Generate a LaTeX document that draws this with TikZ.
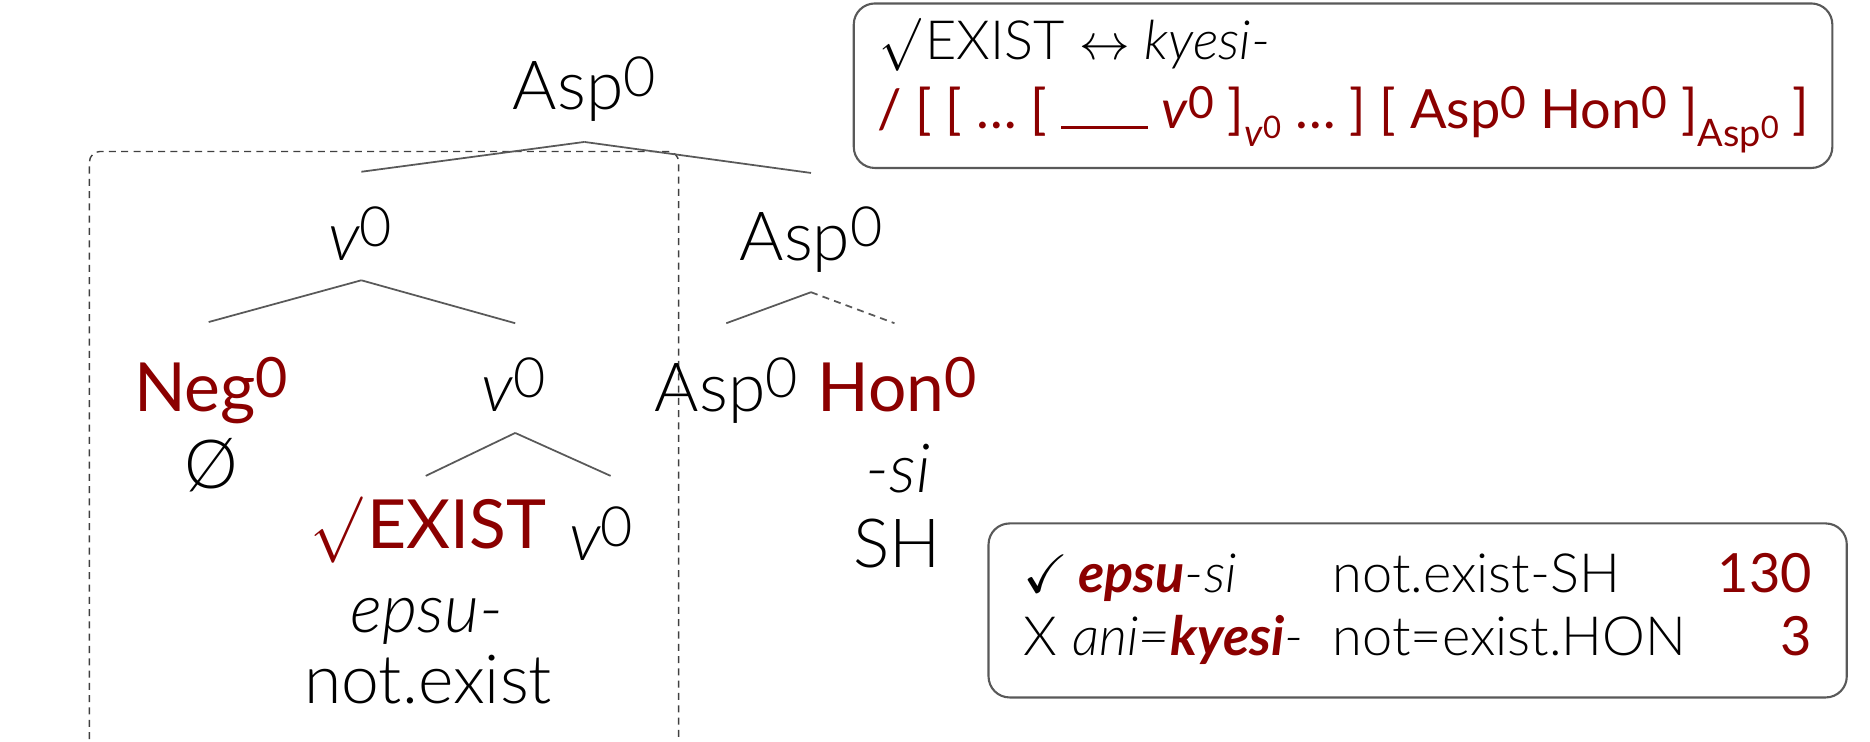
\documentclass[tikz,border=0pt]{standalone}
\usepackage{fontspec}
\usepackage{amssymb}
\usepackage{graphicx}
\setmainfont{Lato}[UprightFont=* Light, ItalicFont=* Light Italic, BoldFont=*, BoldItalicFont=* Italic]
\newfontface\heavyit{Lato Bold Italic}
\definecolor{darkred}{HTML}{8B0000}

% small raised zero on category labels
\newcommand{\zsup}{\raisebox{0.2em}{\scalebox{0.82}{0}}}
\newcommand{\rootmark}{\raisebox{-0.22em}{\resizebox*{0.76em}{0.98em}{\raisebox{\depth}{$\surd$}}}\kern0.08em}
\newcommand{\vsub}{\raisebox{-0.32em}{\scalebox{0.7}{\textit{v}\zsup}}}
\newcommand{\aspsub}{\raisebox{-0.32em}{\scalebox{0.7}{Asp\zsup}}}
\newcommand{\hl}[1]{\textcolor{darkred}{\bfseries #1}}
\newcommand{\hlit}[1]{\textcolor{darkred}{\heavyit #1}}

\tikzset{
    cat/.style={anchor=base, inner sep=0pt, font=\fontsize{19.3}{23}\selectfont},
    hicat/.style={cat, text=darkred, font=\fontsize{19.3}{23}\selectfont\bfseries},
    branch/.style={draw=black!65, line width=0.5pt},
    dashbranch/.style={branch, dash pattern=on 2pt off 1.5pt},
    groupline/.style={draw=black!75, line width=0.4pt, dash pattern=on 2pt off 1.5pt, rounded corners=3pt},
    infobox/.style={rectangle, rounded corners=6pt, draw=black!65, line width=0.6pt, inner sep=0pt},
    boxtext/.style={anchor=base west, inner sep=0pt, font=\fontsize{15.4}{18}\selectfont},
}

\begin{document}
\begin{tikzpicture}[x=0.011926cm, y=-0.011926cm]
    \useasboundingbox (0,0) rectangle (1568,622);

    % v0 complex
    \draw[groupline] (75,630) -- (75,127) -- (569,127) -- (569,630);

    % categories
    \node[cat] (aspRoot) at (490,92) {Asp\zsup};
    \node[cat] (vHigh) at (302,218) {\textit{v}\zsup};
    \node[cat] (aspHigh) at (680,218) {Asp\zsup};
    \node[hicat] (neg) at (177,345) {Neg\zsup};
    \node[cat] (vLow) at (431,345) {\textit{v}\zsup};
    \node[cat] (aspLow) at (609,345) {Asp\zsup};
    \node[hicat] (hon) at (752,345) {Hon\zsup};
    \node[hicat] (exist) at (359,460) {\rootmark EXIST};
    \node[cat] (vLeaf) at (504,470) {\textit{v}\zsup};

    % exponents and glosses
    \node[cat] (nullExp) at (177,410) {Ø};
    \node[cat] (epsu) at (358,530) {\textit{epsu-}};
    \node[cat] (gloss) at (359,590) {not.exist};
    \node[cat] (si) at (753,413) {\textit{-si}};
    \node[cat] (sh) at (752,476) {SH};

    % branches
    \draw[branch] ([shift={(0,27)}]aspRoot.base) -- ([shift={(1,-74)}]vHigh.base);
    \draw[branch] ([shift={(0,27)}]aspRoot.base) -- ([shift={(0,-73)}]aspHigh.base);
    \draw[branch] ([shift={(1,17)}]vHigh.base) -- ([shift={(-2,-75)}]neg.base);
    \draw[branch] ([shift={(1,17)}]vHigh.base) -- ([shift={(1,-74)}]vLow.base);
    \draw[branch] ([shift={(0,27)}]aspHigh.base) -- ([shift={(0,-74)}]aspLow.base);
    \draw[dashbranch] ([shift={(0,27)}]aspHigh.base) -- ([shift={(-2,-74)}]hon.base);
    \draw[branch] ([shift={(1,18)}]vLow.base) -- ([shift={(-2,-61)}]exist.base);
    \draw[branch] ([shift={(1,18)}]vLow.base) -- ([shift={(8,-71)}]vLeaf.base);

    % vocabulary item
    \node[infobox, anchor=north west, minimum width=9.791cm, minimum height=1.646cm] (ruleBox) at (715,2) {};
    \node[boxtext] (ruleTop) at (737,50) {\rootmark EXIST $\leftrightarrow$ \textit{kyesi-}};
    \node[boxtext, text=darkred, font=\fontsize{15.4}{18}\selectfont\bfseries] (ruleEnv) at (735,108)
        {/ [ [ … [ \rule{1.6em}{0.06em} \textit{v}\zsup\ ]\vsub\ … ] [ Asp\zsup\ Hon\zsup\ ]\aspsub\ ]};

    % counts
    \node[infobox, anchor=north west, minimum width=8.587cm, minimum height=1.741cm] (countBox) at (828,438) {};
    \node[boxtext] (formA) at (858,497) {$\checkmark$\,\hlit{epsu}\textit{-si}};
    \node[boxtext] (glossA) at (1117,497) {not.exist-SH};
    \node[boxtext, anchor=base east] (countA) at (1520,497) {\hl{130}};
    \node[boxtext] (formB) at (858,550) {X \textit{ani=}\hlit{kyesi}\textit{-}};
    \node[boxtext] (glossB) at (1117,550) {not=exist.HON};
    \node[boxtext, anchor=base east] (countB) at (1520,550) {\hl{3}};
\end{tikzpicture}
\end{document}
